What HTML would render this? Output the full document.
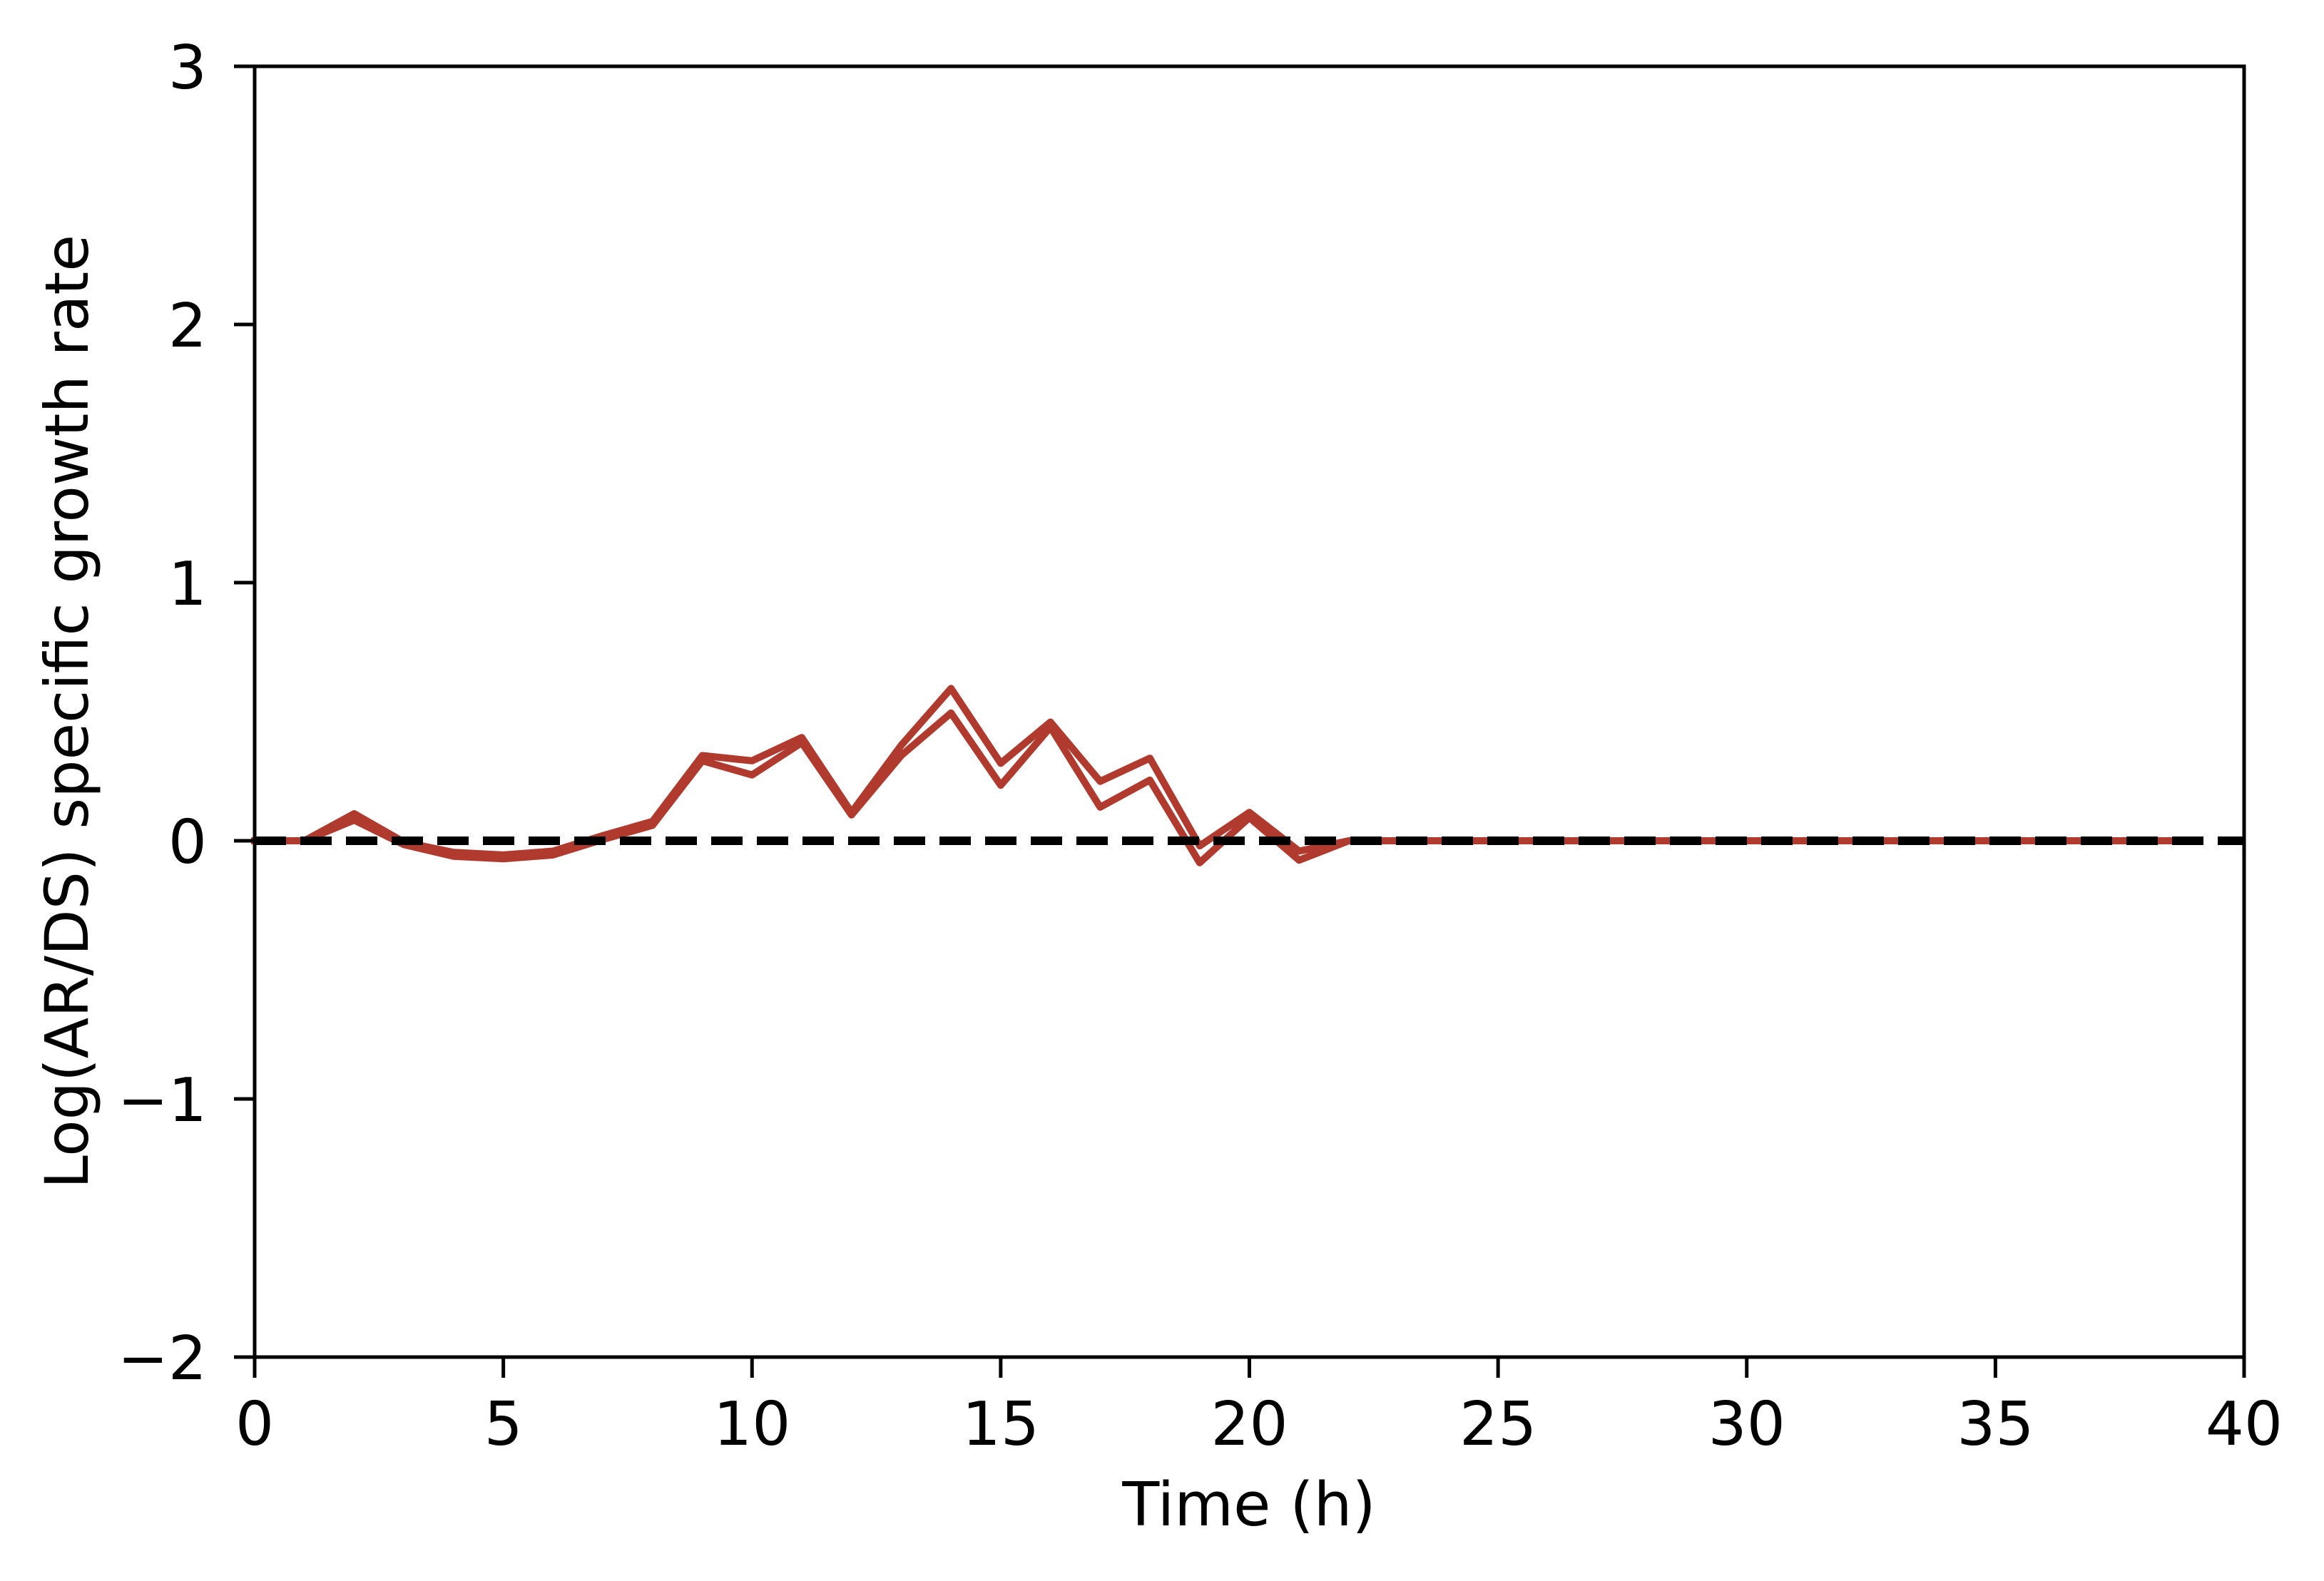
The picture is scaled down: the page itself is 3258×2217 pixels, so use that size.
<!DOCTYPE html>
<html>
<head>
<meta charset="utf-8">
<style>
  html, body { margin: 0; padding: 0; background: #fff; }
  svg { display: block; }
  text { font-family: "DejaVu Sans", "Liberation Sans", sans-serif; fill: #000; }
</style>
</head>
<body>
<svg id="chart" width="3258" height="2217" viewBox="0 0 3258 2217" xmlns="http://www.w3.org/2000/svg">
  <rect x="0" y="0" width="3258" height="2217" fill="#fff"/>
  <g id="plot"></g>
  <g id="axes"></g>
  <text x="1751" y="2139" font-size="85" text-anchor="middle">Time (h)</text>
  <text transform="translate(123,998) rotate(-90)" font-size="84" text-anchor="middle">Log(AR/DS) specific growth rate</text>
</svg>
<script>
const hours = [0,1,2,3,4,5,6,7,8,9,10,11,12,13,14,15,16,17,18,19,20,21,22,23,24,25,26,27,28,29,30,31,32,33,34,35,36,37,38,38.5];
const seriesUpper = [0,0,0.105,-0.005,-0.045,-0.055,-0.04,0.02,0.075,0.33,0.31,0.40,0.11,0.37,0.59,0.30,0.46,0.23,0.32,-0.02,0.11,-0.04,0,0,0,0,0,0,0,0,0,0,0,0,0,0,0,0,0,0];
const seriesLower = [0,0,0.08,-0.015,-0.06,-0.07,-0.055,0.005,0.06,0.31,0.255,0.38,0.10,0.33,0.495,0.215,0.44,0.13,0.235,-0.085,0.09,-0.075,0,0,0,0,0,0,0,0,0,0,0,0,0,0,0,0,0,0];
const xTicks = [0,5,10,15,20,25,30,35,40];
const yTicks = [-2,-1,0,1,2,3];
const yTickLabels = ["\u22122","\u22121","0","1","2","3"];

const L = 357, R = 3146, T = 93, B = 1903;
const xMin = 0, xMax = 40, yMin = -2, yMax = 3;
const xs = v => L + (v - xMin) / (xMax - xMin) * (R - L);
const ys = v => B - (v - yMin) / (yMax - yMin) * (B - T);
const NS = "http://www.w3.org/2000/svg";
const plot = document.getElementById('plot');
const axes = document.getElementById('axes');

function mk(tag, attrs, parent) {
  const el = document.createElementNS(NS, tag);
  for (const k in attrs) el.setAttribute(k, attrs[k]);
  parent.appendChild(el);
  return el;
}

[seriesUpper, seriesLower].forEach((s, i) => {
  const pts = hours.map((h, j) => xs(h).toFixed(1) + ',' + ys(s[j]).toFixed(1)).join(' ');
  const pl = mk('polyline', {points: pts, fill: 'none', stroke: '#b03a2e', 'stroke-width': 10, 'stroke-linejoin': 'round', 'stroke-linecap': 'square'}, plot);
  
  
});

const zl = mk('line', {x1: L, x2: R, y1: ys(0), y2: ys(0), stroke: '#000', 'stroke-width': 12, 'stroke-dasharray': '44 20'}, plot);



const frame = mk('rect', {x: L, y: T, width: R - L, height: B - T, fill: 'none', stroke: '#000', 'stroke-width': 5}, axes);



xTicks.forEach(v => {
  const t = mk('line', {x1: xs(v), x2: xs(v), y1: B, y2: B + 29, stroke: '#000', 'stroke-width': 5}, axes);
  
  
  const lb = mk('text', {x: xs(v), y: 2026, 'font-size': 85, 'text-anchor': 'middle'}, axes);
  lb.textContent = String(v);
  
  
});

yTicks.forEach((v, i) => {
  const t = mk('line', {x1: L - 29, x2: L, y1: ys(v), y2: ys(v), stroke: '#000', 'stroke-width': 5}, axes);
  
  
  const lb = mk('text', {x: 290, y: ys(v) + 31, 'font-size': 85, 'text-anchor': 'end'}, axes);
  lb.textContent = yTickLabels[i];
  
  
});
</script>
</body>
</html>
